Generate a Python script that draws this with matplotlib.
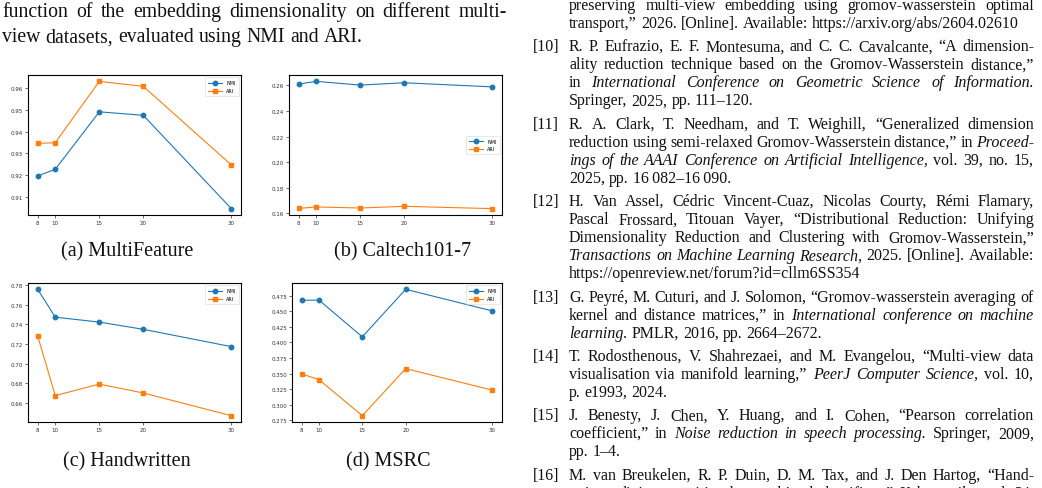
import matplotlib
matplotlib.use("Agg")
import matplotlib.pyplot as plt
from matplotlib.transforms import IdentityTransform

# Data
# -----------------------------------------------------------------------------

dims = [8, 10, 15, 20, 30]

multifeature_nmi = [0.9196, 0.9227, 0.9491, 0.9475, 0.9046]
multifeature_ari = [0.9346, 0.9349, 0.9631, 0.9608, 0.9247]
caltech_nmi = [0.2611, 0.2632, 0.2603, 0.2621, 0.2589]
caltech_ari = [0.1639, 0.1650, 0.1642, 0.1655, 0.1637]
handwritten_nmi = [0.7759, 0.7474, 0.7424, 0.7350, 0.7173]
handwritten_ari = [0.7282, 0.6672, 0.6790, 0.6699, 0.6467]
msrc_nmi = [0.4675, 0.4680, 0.4090, 0.4852, 0.4505]
msrc_ari = [0.3495, 0.3404, 0.2825, 0.3580, 0.3234]

multifeature_ticks = [0.91, 0.92, 0.93, 0.94, 0.95, 0.96]
caltech_ticks = [0.16, 0.18, 0.20, 0.22, 0.24, 0.26]
handwritten_ticks = [0.66, 0.68, 0.70, 0.72, 0.74, 0.76, 0.78]
msrc_ticks = [0.275, 0.300, 0.325, 0.350, 0.375, 0.400, 0.425, 0.450, 0.475]

captions = ["(a) MultiFeature", "(b) Caltech101-7", "(c) Handwritten", "(d) MSRC"]

left_lines = [
    ("function of the embedding dimensionality on different multi-", True),
    ("view datasets, evaluated using NMI and ARI.", False),
]

# (label, [(line, justify), ...])
references = [
    ("", [("preserving multi-view embedding using gromov-wasserstein optimal", True),
          ("transport,\u201d 2026. [Online]. Available: https://arxiv.org/abs/2604.02610", False)]),
    ("[10]", [("R. P. Eufrazio, E. F. Montesuma, and C. C. Cavalcante, \u201cA dimension-", True),
              ("ality reduction technique based on the Gromov-Wasserstein distance,\u201d", True),
              ("in _International Conference on Geometric Science of Information_.", True),
              ("Springer, 2025, pp. 111\u2013120.", False)]),
    ("[11]", [("R. A. Clark, T. Needham, and T. Weighill, \u201cGeneralized dimension", True),
              ("reduction using semi-relaxed Gromov-Wasserstein distance,\u201d in _Proceed-_", True),
              ("_ings of the AAAI Conference on Artificial Intelligence_, vol. 39, no. 15,", True),
              ("2025, pp. 16\u2009082\u201316\u2009090.", False)]),
    ("[12]", [("H. Van Assel, C\u00e9dric Vincent-Cuaz, Nicolas Courty, R\u00e9mi Flamary,", True),
              ("Pascal Frossard, Titouan Vayer, \u201cDistributional Reduction: Unifying", True),
              ("Dimensionality Reduction and Clustering with Gromov-Wasserstein,\u201d", True),
              ("_Transactions on Machine Learning Research_, 2025. [Online]. Available:", True),
              ("https://openreview.net/forum?id=cllm6SS354", False)]),
    ("[13]", [("G. Peyr\u00e9, M. Cuturi, and J. Solomon, \u201cGromov-wasserstein averaging of", True),
              ("kernel and distance matrices,\u201d in _International conference on machine_", True),
              ("_learning_.  PMLR, 2016, pp. 2664\u20132672.", False)]),
    ("[14]", [("T. Rodosthenous, V. Shahrezaei, and M. Evangelou, \u201cMulti-view data", True),
              ("visualisation via manifold learning,\u201d _PeerJ Computer Science_, vol. 10,", True),
              ("p. e1993, 2024.", False)]),
    ("[15]", [("J. Benesty, J. Chen, Y. Huang, and I. Cohen, \u201cPearson correlation", True),
              ("coefficient,\u201d in _Noise reduction in speech processing_.  Springer, 2009,", True),
              ("pp. 1\u20134.", False)]),
    ("[16]", [("M. van Breukelen, R. P. Duin, D. M. Tax, and J. Den Hartog, \u201cHand-", True),
              ("written digit recognition by combined classifiers,\u201d _Kybernetika_, vol. 34,", True)]),
]

# Functions
# -----------------------------------------------------------------------------

W, H = 1042, 489
SERIF = "Liberation Serif"


def put_line(fig, renderer, x0, x1, y, line, size, justify):
    """
    Setzt eine Textzeile wortweise, damit Blocksatz und Kursivschrift gehen.
    """
    words = []
    italic = False
    for tok in line.split(" "):
        if tok == "":
            continue
        if tok.startswith("_"):
            italic = True
            tok = tok[1:]
        ends = "_" in tok
        tok = tok.replace("_", "")
        words.append((tok, italic))
        if ends:
            italic = False

    texts = []
    for tok, it in words:
        t = fig.text(0, H - y, tok, transform=IdentityTransform(), fontsize=size,
                     family=SERIF, style="italic" if it else "normal",
                     va="baseline", ha="left", color="#111111")
        texts.append(t)
    widths = [t.get_window_extent(renderer).width for t in texts]

    a = fig.text(0, 0, "x x", fontsize=size, family=SERIF)
    b = fig.text(0, 0, "xx", fontsize=size, family=SERIF)
    space = a.get_window_extent(renderer).width - b.get_window_extent(renderer).width
    a.remove()
    b.remove()

    if justify and len(texts) > 1:
        gap = (x1 - x0 - sum(widths)) / (len(texts) - 1)
    else:
        gap = space
    x = x0
    for t, w in zip(texts, widths):
        t.set_position((x, H - y))
        x += w + gap


def pixel_axes(fig, x0, y0, x1, y1):
    return fig.add_axes([x0 / W, 1 - y1 / H, (x1 - x0) / W, (y1 - y0) / H])


def plot_panel(ax, nmi, ari, ticks, legend_loc):
    ax.plot(dims, nmi, marker="o", color="tab:blue", lw=0.8, ms=3.2, label="NMI")
    ax.plot(dims, ari, marker="s", color="tab:orange", lw=0.8, ms=3.2, label="ARI")
    ax.set_xticks(dims)
    ax.set_yticks(ticks)
    ax.tick_params(labelsize=4, length=2, width=0.5, pad=1.5, colors="#333333")
    for s in ax.spines.values():
        s.set_linewidth(0.8)
    leg = ax.legend(loc=legend_loc, fontsize=3.5, handlelength=3, borderpad=0.6,
                    labelspacing=0.6, handletextpad=0.8)
    leg.get_frame().set_linewidth(0.4)


# Beginning of the Programm
# -----------------------------------------------------------------------------

if __name__ == '__main__':
    fig = plt.figure(figsize=(W / 100, H / 100), dpi=100)
    fig.patch.set_facecolor("white")

    ax_a = pixel_axes(fig, 28, 76, 241, 216)
    ax_b = pixel_axes(fig, 289, 76, 502, 216)
    ax_c = pixel_axes(fig, 28, 284, 241, 423)
    ax_d = pixel_axes(fig, 292, 284, 502, 423)

    plot_panel(ax_a, multifeature_nmi, multifeature_ari, multifeature_ticks, "upper right")
    plot_panel(ax_b, caltech_nmi, caltech_ari, caltech_ticks, "center right")
    plot_panel(ax_c, handwritten_nmi, handwritten_ari, handwritten_ticks, "upper right")
    plot_panel(ax_d, msrc_nmi, msrc_ari, msrc_ticks, "upper right")

    # Unterschriften der Teilbilder
    for cap, (cx, cy) in zip(captions, [(127, 252), (403, 252), (127, 462), (388, 462)]):
        fig.text(cx / W, 1 - cy / H, cap, fontsize=14.5, family=SERIF,
                 ha="center", va="center", color="#111111")

    renderer = fig.canvas.get_renderer()

    # linke Spalte (Bildunterschrift, groessere Schrift)
    y = 17.0
    for line, just in left_lines:
        put_line(fig, renderer, 2, 507, y, line, 14.2, just)
        y += 25.5

    # rechte Spalte (Literatur)
    y = 10.0
    for label, lines in references:
        if label:
            fig.text(533, H - y, label, transform=IdentityTransform(), fontsize=11.5,
                     family=SERIF, va="baseline", ha="left", color="#111111")
        for line, just in lines:
            put_line(fig, renderer, 569, 1034, y, line, 11.5, just)
            y += 18.05
        y += 5.2

    fig.savefig("out.png", dpi=100)
